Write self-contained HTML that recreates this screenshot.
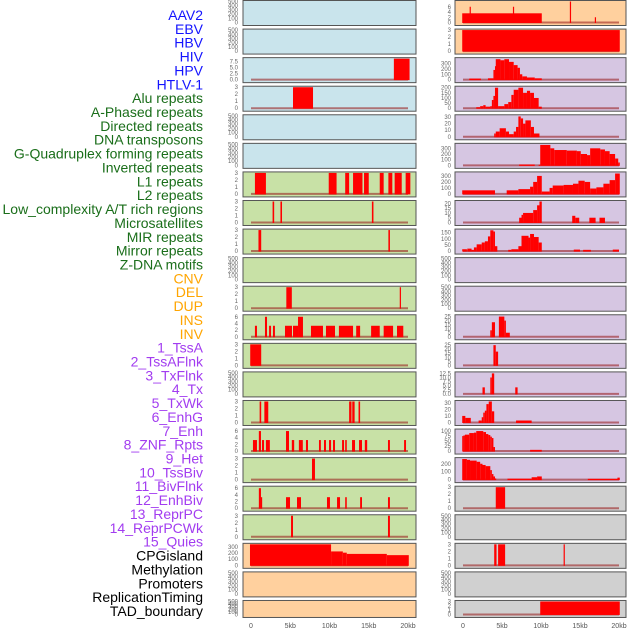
<!DOCTYPE html>
<html><head><meta charset="utf-8"><style>
html,body{margin:0;padding:0;background:#fff;width:630px;height:630px;overflow:hidden}
svg{display:block}
</style></head><body>
<svg id="chart" width="630" height="630" xmlns="http://www.w3.org/2000/svg" font-family="Liberation Sans, sans-serif"></svg>
<script>
const trackLabels = ["AAV2","EBV","HBV","HIV","HPV","HTLV-1","Alu repeats","A-Phased repeats","Directed repeats","DNA transposons","G-Quadruplex forming repeats","Inverted repeats","L1 repeats","L2 repeats","Low_complexity A/T rich regions","Microsatellites","MIR repeats","Mirror repeats","Z-DNA motifs","CNV","DEL","DUP","INS","INV","1_TssA","2_TssAFlnk","3_TxFlnk","4_Tx","5_TxWk","6_EnhG","7_Enh","8_ZNF_Rpts","9_Het","10_TssBiv","11_BivFlnk","12_EnhBiv","13_ReprPC","14_ReprPCWk","15_Quies","CPGisland","Methylation","Promoters","ReplicationTiming","TAD_boundary"];
const labelGroups = ["v","v","v","v","v","v","r","r","r","r","r","r","r","r","r","r","r","r","r","s","s","s","s","s","c","c","c","c","c","c","c","c","c","c","c","c","c","c","c","o","o","o","o","o"];
const xTickLabels = ["0","5kb","10kb","15kb","20kb"];
const xTickValues = [0,5,10,15,20];
const T500 = [0,100,200,300,400,500];
const T3 = [0,1,2,3];
const T6 = [0,2,4,6];
// left column panels (22 rows)
const leftBg = ["b","b","b","b","b","b","g","g","g","g","g","g","g","g","g","g","g","g","g","p","p","p"];
const leftMax = [500,500,8.6,3,500,500,3,3,3,500,3,6.3,3,500,3,6.3,3,6.3,3,340,500,500];
const leftTicks = [T500,T500,[0,2.5,5,7.5],T3,T500,T500,T3,T3,T3,T500,T3,T6,T3,T500,T3,T6,T3,T6,T3,[0,100,200,300],T500,T500];
const leftSegs = [
 [],[],
 [[18.2,20.2,8.6]],
 [[5.35,7.9,3]],
 [],[],
 [[0.5,1.9,3],[9.9,10.9,3],[12.0,12.5,3],[13.0,14.2,3],[14.4,15.0,3],[16.4,16.9,3],[17.5,18.0,3],[18.3,19.2,3],[19.7,20.3,3]],
 [[2.75,2.95,3],[3.75,3.95,3],[15.4,15.6,3]],
 [[0.95,1.3,3],[17.5,17.7,3]],
 [],
 [[4.5,5.2,3],[18.95,19.1,3]],
 [[0.5,0.76,3.3],[1.78,2.04,6],[2.3,2.55,3.3],[2.8,3.05,3.3],[4.33,5.22,3.3],[5.35,5.99,3.3],[5.99,6.62,6],[7.64,9.17,3.3],[9.55,10.7,3.3],[11.2,13.0,3.3],[13.4,13.9,3.3],[15.3,16.4,3.3],[16.9,18.1,3.3],[18.6,19.4,3.3]],
 [[-0.1,1.3,3]],
 [],
 [[1.1,1.3,3],[1.7,2.2,3],[12.5,12.8,3],[12.9,13.2,3],[13.7,13.9,3]],
 [[0.25,0.76,3.3],[1.0,1.27,6],[1.4,1.66,3.3],[1.9,2.4,3.3],[4.46,4.84,6],[5.2,5.5,3.3],[6.1,6.6,3.3],[7.0,7.26,3.3],[8.66,8.9,3.3],[9.3,9.55,3.3],[9.94,10.2,3.3],[10.45,10.7,3.3],[11.6,11.85,3.3],[12.0,12.2,3.3],[12.87,13.25,3.3],[13.76,14.14,3.3],[14.5,14.8,3.3],[17.45,17.7,3.3],[19.5,19.75,3.3]],
 [[7.77,8.15,3]],
 [[1.0,1.27,6],[1.27,1.4,3.3],[4.46,4.97,3.3],[5.86,6.37,3.3],[9.68,10.06,3.3],[10.96,11.34,3.3],[12.0,12.2,3.3],[13.9,14.14,3.3],[17.45,17.7,3.3]],
 [[5.1,5.35,3],[17.45,17.7,3]],
 [[-0.13,10.2,340],[10.2,11.7,225],[11.7,12.2,205],[12.2,17.3,185],[17.3,20.1,165]],
 [],[]
];
// right column panels
const rightBg = ["p","p","l","l","l","l","l","l","l","l","l","l","l","l","l","l","l","y","y","y","y","y"];
const rightMax = [8,3,390,205,32,370,350,22,172,500,500,26,26,12.8,32,105,265,3,500,3,500,3];
const rightTicks = [T6,T3,[0,100,200,300],[0,50,100,150,200],[0,10,20,30],[0,100,200,300],[0,100,200,300],[0,5,10,15,20],[0,50,100,150],T500,T500,[0,5,10,15,20,25],[0,5,10,15,20,25],[0,2.5,5,7.5,10,12.5],[0,10,20,30],[0,25,50,75,100],[0,100,200],T3,T500,T3,T500,T3];
const rightSegs = [
 [[-0.1,10.1,3.5],[0.85,1.0,6],[6.4,6.55,6],[13.7,13.85,8],[16.9,17.05,2]],
 [[-0.1,20.1,3]],
 [[0.8,2.3,20],[3.2,3.9,25],[3.9,4.1,180],[4.1,4.2,250],[4.2,4.8,380],[4.8,5.3,360],[5.3,5.9,380],[5.9,6.5,330],[6.5,7.0,270],[7.0,7.3,220],[7.3,7.6,100],[7.6,8.2,60],[8.2,9.2,40],[9.2,10.1,25]],
 [[1.7,2.2,10],[2.2,2.6,20],[2.6,2.9,30],[2.9,3.5,15],[3.5,3.7,20],[3.7,3.9,80],[3.9,4.1,120],[4.1,4.5,200],[4.5,5.3,20],[5.3,5.8,40],[5.8,6.2,60],[6.2,6.5,130],[6.5,7.1,180],[7.1,7.7,200],[7.7,8.2,150],[8.2,8.6,170],[8.6,9.1,150],[9.1,9.7,100],[9.7,10.1,15]],
 [[4.0,4.2,5],[4.2,4.7,8],[4.7,5.5,13],[5.5,5.9,8],[5.9,6.5,4],[6.5,6.8,8],[6.8,7.1,15],[7.1,7.4,31],[7.4,7.7,28],[7.7,8.0,20],[8.0,8.7,25],[8.7,9.1,15],[9.1,9.8,5]],
 [[7.2,9.2,15],[9.7,9.9,10],[9.9,11.2,360],[11.2,11.7,300],[11.7,13.3,270],[13.3,14.6,260],[14.6,15.1,250],[15.1,15.9,200],[15.9,16.3,180],[16.3,17.6,300],[17.6,18.2,280],[18.2,18.8,250],[18.8,19.5,200],[19.5,19.9,120],[19.9,20.1,50]],
 [[-0.1,4.1,60],[5.6,7.1,60],[7.1,8.6,80],[8.6,9.0,120],[9.0,9.5,200],[9.5,10.1,300],[10.1,11.1,40],[11.1,11.5,100],[11.5,12.9,140],[12.9,14.1,150],[14.1,14.8,170],[14.8,15.6,220],[15.6,16.3,200],[16.3,17.1,90],[17.1,18.0,110],[18.0,18.8,170],[18.8,19.5,230],[19.5,20.1,340]],
 [[7.2,7.5,5],[7.5,7.7,8],[7.7,9.0,10],[9.0,9.5,13],[9.5,9.8,18],[9.8,10.1,22],[14.0,14.4,7],[14.4,14.9,5],[16.2,17.0,5],[17.5,18.2,5]],
 [[-0.1,0.5,15],[0.55,1.1,20],[1.1,1.4,10],[1.4,1.75,30],[1.75,2.4,55],[2.4,2.8,70],[2.8,3.2,80],[3.2,3.5,120],[3.5,3.9,170],[3.9,4.1,160],[4.1,4.4,40],[5.8,6.2,10],[6.2,7.1,15],[7.1,7.5,40],[7.5,8.4,125],[8.4,8.6,110],[8.6,9.1,140],[9.1,9.7,115],[9.7,10.1,70],[14.2,15.0,12],[15.4,16.4,10],[19.2,20.0,12]],
 [],[],
 [[3.5,3.7,8],[3.7,4.1,18],[4.6,5.3,25],[5.3,5.5,20],[5.5,6.0,5]],
 [[3.9,4.2,25],[4.2,4.5,17]],
 [[2.5,2.8,4],[3.5,3.7,10],[3.7,4.0,12.5],[6.7,7.0,4]],
 [[-0.1,0.3,10],[0.3,1.0,7],[2.0,2.4,3],[2.4,2.6,8],[2.6,2.8,15],[2.8,3.0,18],[3.0,3.3,28],[3.3,3.7,32],[3.7,4.0,17],[6.8,8.8,3]],
 [[-0.1,0.05,75],[0.05,0.25,78],[0.25,0.8,82],[0.8,1.4,90],[1.4,1.7,92],[1.7,2.6,100],[2.6,2.95,95],[2.95,3.25,85],[3.25,3.5,80],[3.5,3.7,72],[3.7,3.9,65],[3.9,4.1,20],[8.6,10.1,6]],
 [[-0.1,0.5,260],[0.5,0.9,250],[0.9,1.75,240],[1.75,2.2,225],[2.2,2.5,200],[2.5,2.9,185],[2.9,3.5,170],[3.5,3.7,120],[3.7,3.9,70],[3.9,4.1,40],[4.1,4.2,15],[5.7,8.8,12],[8.8,9.5,30],[9.5,10.1,40],[16.0,19.8,10],[19.8,20.1,25]],
 [[4.2,5.4,3]],
 [],
 [[4.0,4.3,3],[4.5,5.4,3],[12.9,13.05,3]],
 [],
 [[9.9,20.1,3]]
];

const bgColors = {b:"#c9e4ec",g:"#c8e1a6",p:"#ffd09e",l:"#d6c6e2",y:"#d0d0d0"};
const labelColors = {v:"#1414ff",r:"#1a6e1a",s:"#ffa500",c:"#a23cf0",o:"#000000"};
const NS = "http://www.w3.org/2000/svg";
const svg = document.getElementById('chart');
function mk(tag, attrs, parent){const e=document.createElementNS(NS,tag);for(const k in attrs)e.setAttribute(k,attrs[k]);(parent||svg).appendChild(e);return e;}

// labels
trackLabels.forEach((t,i)=>{
  const e=mk('text',{x:203,y:(15+i*13.86+5).toFixed(1),'text-anchor':'end','font-size':'14',fill:labelColors[labelGroups[i]]});
  
  
  e.textContent=t;
});

const cols=[{x:243,w:173,x0:251,x20:408,tx:238,bg:leftBg,max:leftMax,ticks:leftTicks,segs:leftSegs,name:'left'},
            {x:455,w:171,x0:463,x20:619,tx:451,bg:rightBg,max:rightMax,ticks:rightTicks,segs:rightSegs,name:'right'}];
function rowTop(i){return i*28.57;}
function rowH(i){return i===21?17:25;}

cols.forEach(c=>{
  const xs=v=>c.x0+(v/20)*(c.x20-c.x0);
  for(let i=0;i<22;i++){
    const top=rowTop(i), h=rowH(i), bot=top+h-2.5, inner=h-4;
    const g=mk('g',{});
    
    
    mk('rect',{x:c.x,y:top+0.5,width:c.w,height:h,fill:bgColors[c.bg[i]]},g);
    const mx=c.max[i];
    const ys=v=>bot-(v/mx)*inner;
    // ticks
    c.ticks[i].forEach(tv=>{
      const t=mk('text',{x:c.tx,y:(ys(tv)+2).toFixed(1),'text-anchor':'end','font-size':'6',fill:'#666'},g);
      
      
      t.textContent=String(tv===2.5||tv===7.5||tv===12.5||(c.ticks[i].includes(2.5)&&true)?(Number.isInteger(tv)?tv.toFixed(1):tv):tv);
    });
    const segs=c.segs[i];
    if(segs.length){
      const bl=mk('line',{x1:xs(0),x2:xs(20),y1:ys(0),y2:ys(0),stroke:'rgba(150,20,20,0.55)','stroke-width':2},g);
      
      
    }
    segs.forEach(s=>{
      const x1=xs(s[0]),x2=xs(s[1]),y=ys(Math.min(s[2],mx));
      const r=mk('rect',{x:x1.toFixed(2),y:y.toFixed(2),width:Math.max(1.2,x2-x1).toFixed(2),height:(ys(0)-y+0.5).toFixed(2),fill:'#ff0000'},g);
      
      
    });
    mk('rect',{x:c.x,y:top+0.5,width:c.w,height:h,fill:'none',stroke:'#555','stroke-width':1},g);
  }
  xTickValues.forEach((v,k)=>{
    const t=mk('text',{x:xs(v),y:628,'text-anchor':'middle','font-size':'7',fill:'#555'});
    
    
    t.textContent=xTickLabels[k];
  });
});
</script>
</body></html>
